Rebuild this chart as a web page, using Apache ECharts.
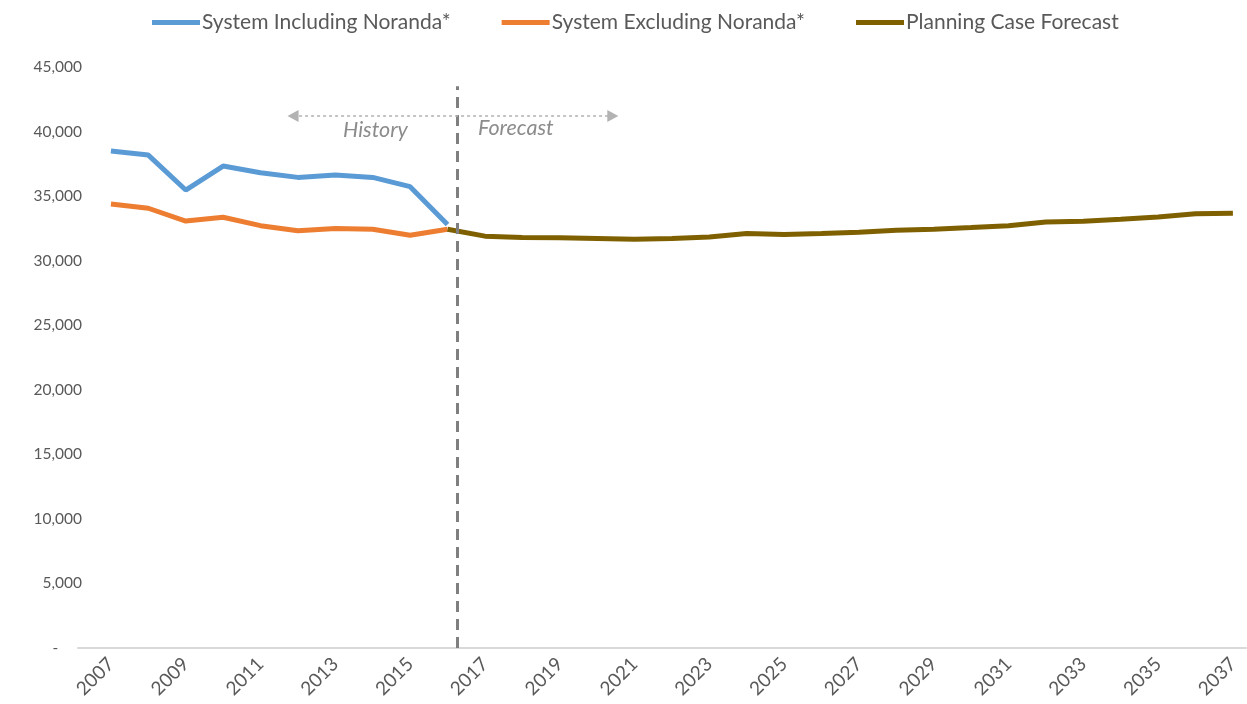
<!DOCTYPE html>
<html>
<head>
<meta charset="utf-8">
<script src="https://cdn.jsdelivr.net/npm/echarts@6/dist/echarts.min.js"></script>
<style>
  html, body { margin: 0; padding: 0; background: #fff; }
  #chart { width: 1247px; height: 704px; }
</style>
</head>
<body>
<div id="chart"></div>
<script>
// years shown on the x axis
const historyYears = [2007, 2008, 2009, 2010, 2011, 2012, 2013, 2014, 2015, 2016];
const forecastYears = [2016, 2017, 2018, 2019, 2020, 2021, 2022, 2023, 2024, 2025, 2026,
  2027, 2028, 2029, 2030, 2031, 2032, 2033, 2034, 2035, 2036, 2037];
const xTickLabels = [2007, 2009, 2011, 2013, 2015, 2017, 2019, 2021, 2023, 2025, 2027,
  2029, 2031, 2033, 2035, 2037];

// series values
const inclNoranda = [38490, 38180, 35470, 37330, 36810, 36450, 36640, 36450, 35730, 32800];
const exclNoranda = [34390, 34060, 33070, 33360, 32710, 32320, 32500, 32430, 31970, 32430];
const planningCase = [32430, 31900, 31800, 31780, 31720, 31660, 31720, 31830, 32100, 32030, 32100,
  32200, 32350, 32430, 32560, 32700, 33000, 33050, 33200, 33380, 33640, 33680];

// history / forecast split
const dividerYear = 2016.25;
const arrowYears = [2011.87, 2020.42];
const arrowValue = 41200;

const pair = (xs, ys) => xs.map((x, i) => [x, ys[i]]);

const chart = echarts.init(document.getElementById('chart'));
const font = 'Lato';
const grey = '#595959';

chart.setOption({
  animation: false,
  textStyle: { fontFamily: font },
  legend: {
    top: 7,
    left: 147,
    itemWidth: 48,
    itemHeight: 5,
    itemGap: 51,
    icon: 'rect',
    textStyle: { color: grey, fontSize: 21, fontFamily: font, padding: [0, 0, 0, -3] },
    data: ['System Including Noranda*', 'System Excluding Noranda*', 'Planning Case Forecast']
  },
  grid: { left: 78, right: 1, top: 67, bottom: 56, containLabel: false },
  xAxis: {
    type: 'value',
    min: 2006.12,
    max: 2037.35,
    axisLine: { show: true, lineStyle: { color: '#d9d9d9', width: 2 } },
    axisTick: { show: false },
    splitLine: { show: false },
    axisLabel: {
      customValues: xTickLabels,
      rotate: 45,
      margin: 13,
      color: grey,
      fontSize: 19,
      fontFamily: font,
      formatter: v => String(v)
    }
  },
  yAxis: {
    type: 'value',
    min: 0,
    max: 45000,
    interval: 5000,
    axisLine: { show: false },
    axisTick: { show: false },
    splitLine: { show: false },
    axisLabel: {
      color: grey,
      fontSize: 15.5,
      fontFamily: font,
      margin: -4,
      formatter: v => v === 0 ? '-      ' : v.toLocaleString('en-US')
    }
  },
  series: [
    {
      name: 'System Including Noranda*',
      type: 'line',
      data: pair(historyYears, inclNoranda),
      showSymbol: false,
      lineStyle: { color: '#5b9bd5', width: 5 },
      itemStyle: { color: '#5b9bd5' },
      z: 3
    },
    {
      name: 'System Excluding Noranda*',
      type: 'line',
      data: pair(historyYears, exclNoranda),
      showSymbol: false,
      lineStyle: { color: '#ed7d31', width: 5 },
      itemStyle: { color: '#ed7d31' },
      z: 3
    },
    {
      name: 'Planning Case Forecast',
      type: 'line',
      data: pair(forecastYears, planningCase),
      showSymbol: false,
      lineStyle: { color: '#7f6000', width: 5 },
      itemStyle: { color: '#7f6000' },
      z: 4,
      markLine: {
        silent: true,
        animation: false,
        label: { show: false },
        lineStyle: { color: '#7f7f7f', type: [11, 7], width: 3 },
        data: [
          [
            { coord: [dividerYear, 0], symbol: 'none' },
            { coord: [dividerYear, 43500], symbol: 'none' }
          ],
          [
            {
              coord: [arrowYears[0], arrowValue], symbol: 'triangle', symbolSize: [12, 11], symbolRotate: 90,
              lineStyle: { color: '#b3b3b3', type: [3, 3], width: 1.5 },
              itemStyle: { color: '#a6a6a6' }
            },
            {
              coord: [arrowYears[1], arrowValue], symbol: 'triangle', symbolSize: [12, 11], symbolRotate: -90,
              itemStyle: { color: '#a6a6a6' }
            }
          ]
        ]
      }
    }
  ],
  graphic: [
    {
      type: 'text', left: 343, top: 119,
      style: { text: 'History', fill: '#8c8c8c', font: 'italic 21.5px ' + font }
    },
    {
      type: 'text', left: 478, top: 117,
      style: { text: 'Forecast', fill: '#8c8c8c', font: 'italic 21.5px ' + font }
    }
  ]
});
</script>
</body>
</html>
